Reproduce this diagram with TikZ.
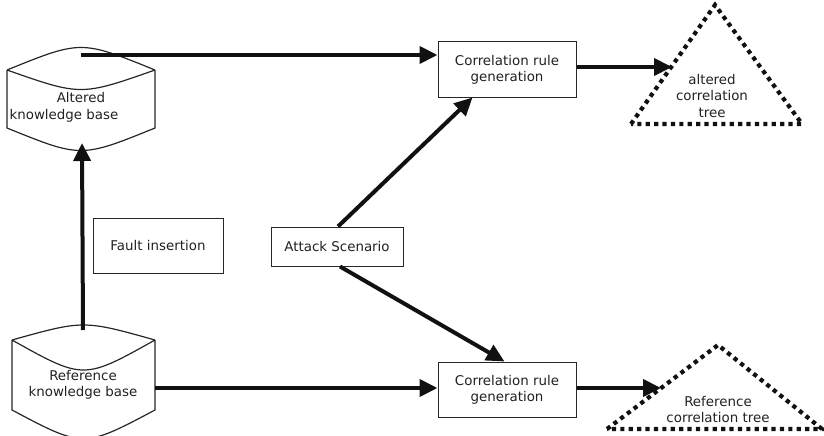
\documentclass[tikz,border=0pt]{standalone}
\usepackage{fontspec}
\setmainfont{DejaVu Sans}
\usetikzlibrary{arrows.meta,calc}
\definecolor{ink}{HTML}{111111}
\definecolor{txt}{HTML}{222222}
\begin{document}
\begin{tikzpicture}[x=1pt,y=-1pt,
  lbl/.style={font=\fontsize{13.4}{16.5}\selectfont, text=txt, align=center, inner sep=0pt},
  procbox/.style={draw=black!85, line width=1pt, fill=white, minimum width=#1, inner sep=0pt, align=center,
    font=\fontsize{13.4}{16}\selectfont, text=txt},
  cyl/.style={draw=black!85, line width=1.2pt},
  flow/.style={draw=ink, line width=4pt, -{Triangle[length=18pt,width=17pt]}},
  dotline/.style={draw=ink, line width=4.2pt, dash pattern=on 4.2pt off 4.2pt}]
\useasboundingbox (0,0) rectangle (824,436);

% stored data: altered knowledge base
\draw[cyl] (7,70) .. controls (81,40) .. (155,70)
           (7,70) .. controls (81,96) .. (155,70)
           (7,70) -- (7,128) .. controls (81,158) .. (155,128) -- (155,70);
\coordinate (altTop) at (81,55);
\coordinate (altBot) at (82,143);
\node[lbl] (altA) at (81,98) {Altered};
\node[lbl] (altB) at (64,116) {knowledge base};

% stored data: reference knowledge base
\draw[cyl] (12,340) .. controls (83.5,320) .. (155,340)
           (12,340) .. controls (83.5,380) .. (155,340)
           (12,340) -- (12,410) .. controls (83.5,448) .. (155,410) -- (155,340);
\coordinate (refTop) at (83,330);
\coordinate (refRight) at (155,388);
\node[lbl] (refLbl) at (83,385) {Reference\\knowledge base};

% processing boxes
\node[procbox=138pt, minimum height=55pt] (crg1) at (507,69.5) {Correlation rule\\generation};
\node[procbox=138pt, minimum height=55pt] (crg2) at (507,389.5) {Correlation rule\\generation};
\node[procbox=130pt, minimum height=55pt] (fault) at (158,245.5) {Fault insertion};
\node[procbox=132pt, minimum height=39pt] (attack) at (337,246.5) {Attack Scenario};

% correlation trees
\draw[dotline] (631,124) -- (715,5) -- (802,124) -- cycle;
\node[lbl] (tree1) at (712,96) {altered\\correlation\\tree};
\coordinate (tree1in) at (672,67);
\draw[dotline] (607,429) -- (718,345) -- (822,429) -- cycle;
\node[lbl] (tree2) at (718,409.5) {Reference\\correlation tree};
\coordinate (tree2in) at (661,388);

% connectors
\draw[flow] (refTop) -- (altBot);
\draw[flow] (altTop) -- (altTop -| crg1.west);
\draw[flow] (refRight) -- (refRight -| crg2.west);
\draw[flow] (crg1.east |- tree1in) -- (tree1in);
\draw[flow] (crg2.east |- tree2in) -- (tree2in);
\draw[flow] ([xshift=1pt]attack.north) -- ([xshift=35pt]crg1.south west);
\draw[flow] ([xshift=3pt]attack.south) -- ([xshift=67pt]crg2.north west);
\end{tikzpicture}
\end{document}
